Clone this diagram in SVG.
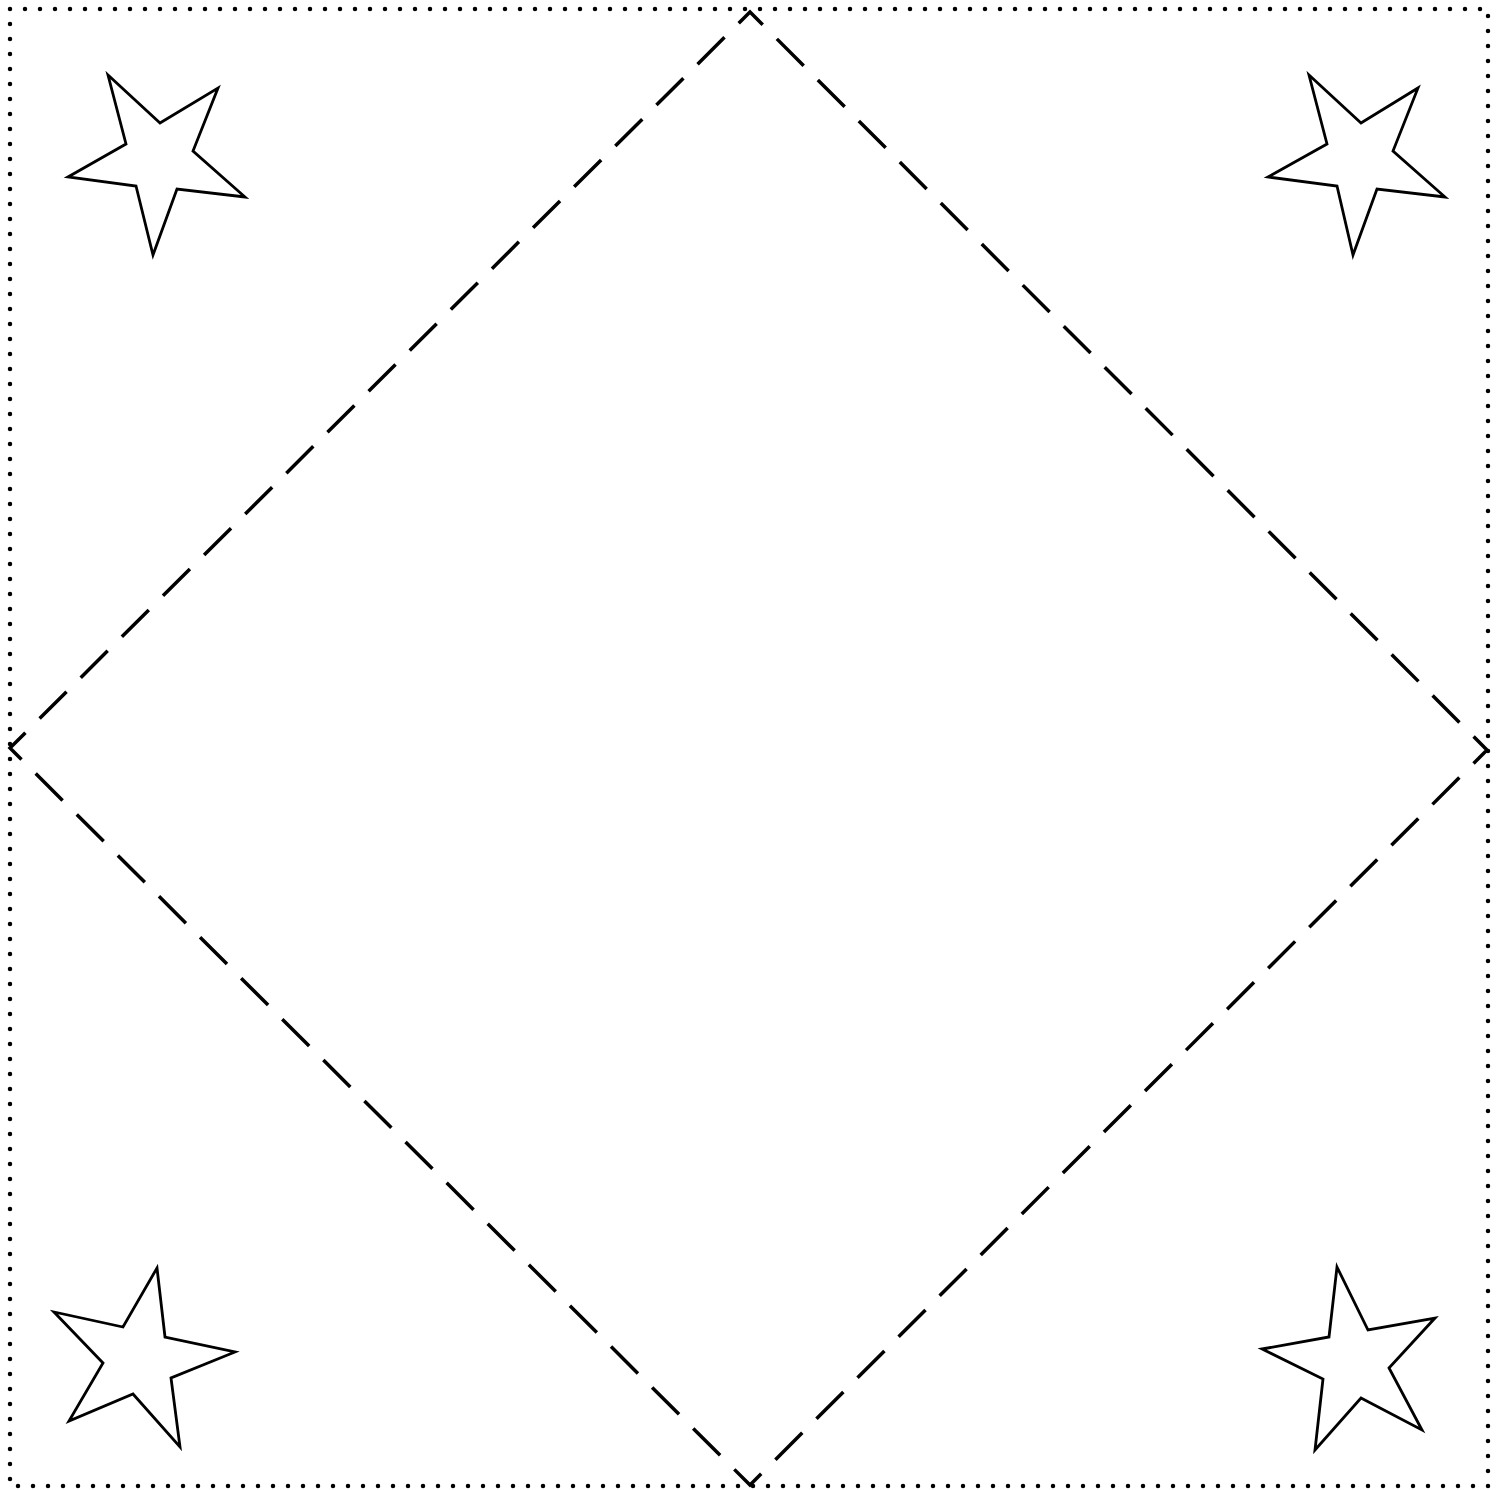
<svg xmlns="http://www.w3.org/2000/svg" width="1501" height="1490" viewBox="0 0 1501 1490">
<style>
.border{fill:none;stroke:#000;stroke-width:4.5;stroke-dasharray:0 15;stroke-linecap:round}
.diamond{fill:none;stroke:#000;stroke-width:3.5;stroke-dasharray:38 20;stroke-dashoffset:20}
.star{fill:#fff;stroke:#000;stroke-width:2.8;stroke-linejoin:miter}
</style>
<rect width="1501" height="1490" fill="#fff"/>
<g id="border"><rect class="border" x="10" y="9" width="1478" height="1477"/></g>
<g id="diamond"><path class="diamond" d="M750,12 L1487,750 L750,1485 L10,748 Z"/></g>
<g id="star-tl"><polygon class="star" points="108,75 160,123 218,88 193,151 245,197 177,189 153,255 136,186 68,177 126,144"/></g>
<g id="star-tr"><polygon class="star" points="1309,75 1361,123 1418,88 1393,151 1445,197 1377,189 1353,255 1337,186 1268,177 1327,144"/></g>
<g id="star-bl"><polygon class="star" points="157,1268 165,1337 235,1352 171,1378 180,1447 133,1394 69,1421 103,1363 54,1312 123,1327"/></g>
<g id="star-br"><polygon class="star" points="1337,1267 1368,1330 1435,1318 1389,1368 1422,1430 1361,1398 1315,1450 1323,1379 1262,1349 1329,1337"/></g>
</svg>
